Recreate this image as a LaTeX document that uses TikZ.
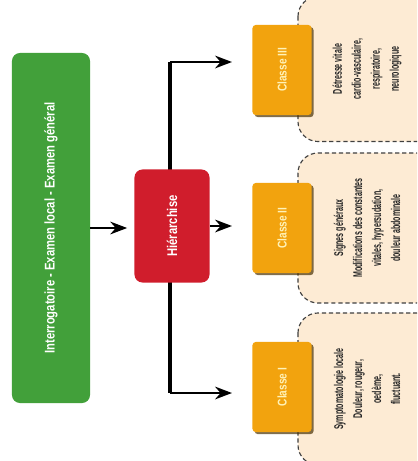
\documentclass[tikz,border=0pt]{standalone}
\usepackage{fontspec}
\setsansfont{Liberation Sans}
\newfontfamily\condfont[FakeStretch=0.8]{Liberation Sans}
\newfontfamily\narrowfont[FakeStretch=0.56]{Liberation Sans}
\usetikzlibrary{arrows.meta,shadows}

\definecolor{vert}{HTML}{42A03A}
\definecolor{rouge}{HTML}{D01D2C}
\definecolor{orange}{HTML}{F2A30E}
\definecolor{beige}{HTML}{FDEBD4}
\definecolor{jaunepale}{HTML}{FFF2B8}

\tikzset{etape/.style = {rotate=90, rounded corners=0.2cm, text=white,
                         font=\condfont\bfseries\fontsize{10}{12}\selectfont},
         classe/.style = {rotate=90, rounded corners=0.08cm, fill=orange,
                          text=jaunepale, minimum width=2.25cm, minimum height=1.475cm,
                          font=\condfont\bfseries\fontsize{9}{11}\selectfont,
                          drop shadow={shadow xshift=1.5pt, shadow yshift=-1.5pt,
                                       fill=black!70!orange, opacity=0.7}},
         detail/.style = {rotate=90, rounded corners=0.5cm, fill=beige,
                          draw=black!75, densely dashed, line width=0.8pt,
                          minimum height=3.45cm, align=center, text=black!85,
                          font=\narrowfont\bfseries\fontsize{9}{13.5}\selectfont},
         fleche/.style = {line width=1.8pt, -{Stealth[length=12pt,width=9pt]}},
         tronc/.style = {line width=3pt}
        }

\begin{document}
\begin{tikzpicture}[x=0.025cm, y=-0.025cm]
  \useasboundingbox (0,0) rectangle (417,461);
  \clip (0,0) rectangle (417,461);
  % tronc vertical
  \coordinate (haut) at (170,62);
  \coordinate (bas) at (170,393);
  \coordinate (b3) at (232,62);
  \coordinate (b1) at (232,393);
  \draw[tronc] (haut) -- (bas);

  \node[etape, fill=vert, minimum width=8.75cm, minimum height=1.95cm] (exam) at (51,228)
       {Interrogatoire - Examen local - Examen général};
  \node[etape, fill=rouge, minimum width=2.825cm, minimum height=1.875cm] (hier) at (172,226)
       {Hiérarchise};

  % cadres
  \node[detail, minimum width=3.625cm] (d3) at (367,69)
       {Détresse vitale\\cardio-vasculaire,\\respiratoire,\\neurologique};
  \node[detail, minimum width=3.75cm] (d2) at (367,228)
       {Signes généraux\\Modifications des constantes\\vitales, hypersudation,\\douleur abdominale};
  \node[detail, minimum width=3.8cm] (d1) at (367,389)
       {Symptomatologie locale\\Douleur, rougeur,\\oedème,\\fluctuant.};

  \node[classe] (c3) at (282,70) {Classe III};
  \node[classe] (c2) at (282,228) {Classe II};
  \node[classe] (c1) at (282,387) {Classe I};

  \draw[fleche] (haut) -- (b3);
  \draw[fleche] (bas) -- (b1);
  \draw[fleche, shorten >=5pt] (exam.south) -- (exam.south -| hier.north);
  \draw[fleche] (hier.south) -- (hier.south -| b3);
\end{tikzpicture}
\end{document}
